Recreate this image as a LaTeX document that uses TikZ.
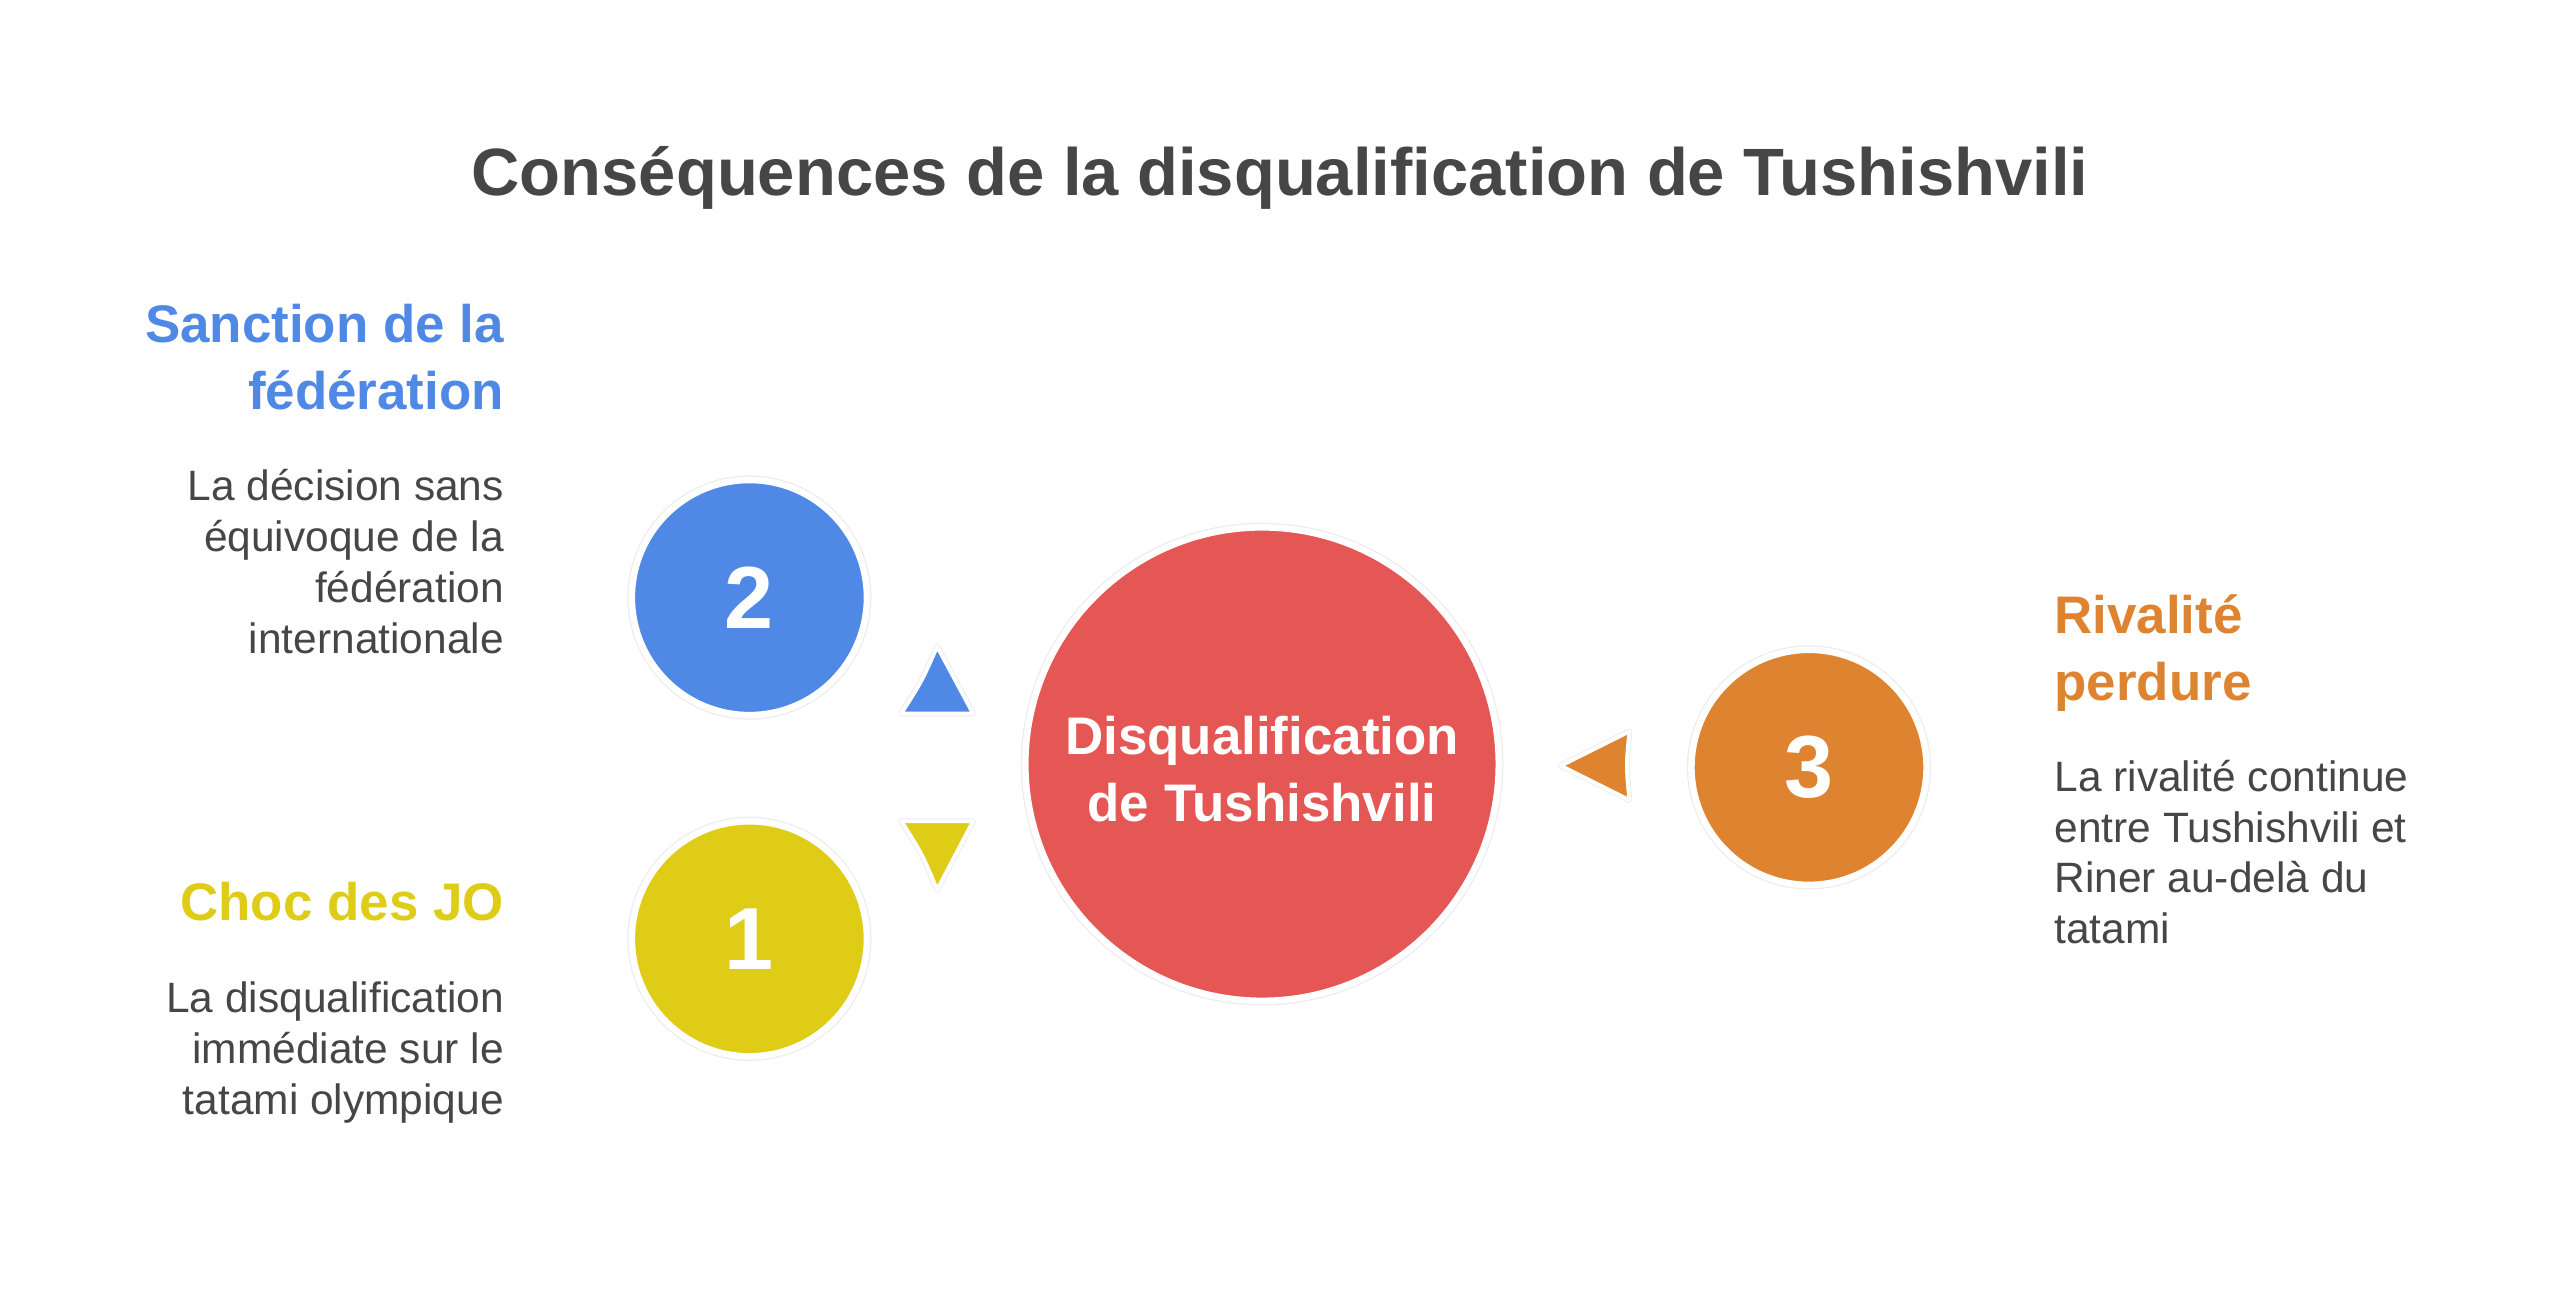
\documentclass[tikz,border=0pt]{standalone}
\usepackage{fontspec}
\setmainfont{Liberation Sans}
\usetikzlibrary{positioning}

\definecolor{sanctionblue}{HTML}{4F88E5}
\definecolor{chocyellow}{HTML}{DFCC17}
\definecolor{centralred}{HTML}{E45754}
\definecolor{rivalorange}{HTML}{DE8431}
\definecolor{textgray}{HTML}{464646}

\tikzset{
  bubble/.style={circle, fill=#1, draw=white, line width=2pt,
    preaction={draw=black!7, line width=2.8pt},
    text=white, inner sep=0pt, minimum size=72pt,
    font=\bfseries\fontsize{27}{30}\selectfont},
  heading/.style={text=#1, inner sep=0pt,
    font=\bfseries\fontsize{16.2}{20.5}\selectfont},
  blurb/.style={text=textgray, inner sep=0pt,
    font=\fontsize{13}{15.6}\selectfont},
  pointer/.style={fill=#1, draw=white, line width=1.2pt, line join=round,
    preaction={draw=black!7, line width=1.8pt, line join=round}},
}

\begin{document}
\begin{tikzpicture}[x=0.5pt, y=-0.5pt]
    \fill[white] (0,0) rectangle (1568,805);
    \useasboundingbox (0,0) rectangle (1568,805);

    % title
    \node[text=textgray, font=\bfseries\fontsize{20.5}{24}\selectfont] (title) at (784,109)
        {Conséquences de la disqualification de Tushishvili};

    % circles
    \node[bubble=centralred, minimum size=145pt] (disq) at (773,468) {};
    \node[text=white, font=\bfseries\fontsize{16.2}{20.5}\selectfont, align=center]
        (disqtxt) at (773,471) {Disqualification\\de Tushishvili};
    \node[bubble=sanctionblue] (two) at (459,366) {2};
    \node[bubble=chocyellow] (one) at (459,575) {1};
    \node[bubble=rivalorange] (three) at (1108,470) {3};

    % pointers
    \draw[pointer=sanctionblue] (574,396) -- (596,437) -- (552,437) .. controls (564.5,417.5) .. (574,396) -- cycle;
    \draw[pointer=chocyellow] (552,503) -- (596,503) -- (574,545) .. controls (564.5,522.5) .. (552,503) -- cycle;
    \draw[pointer=rivalorange] (956,469) -- (998,448) .. controls (996,469) .. (998,490) -- cycle;

    % left side texts
    \node[heading=sanctionblue, anchor=north east, align=right] (sanction) at (309,186)
        {Sanction de la\\fédération};
    \node[blurb, anchor=north east, align=right] (sanctiontxt) at (309,287)
        {La décision sans\\équivoque de la\\fédération\\internationale};
    \node[heading=chocyellow, anchor=north east, align=right] (choc) at (309,540)
        {Choc des JO};
    \node[blurb, anchor=north east, align=right] (choctxt) at (309,601)
        {La disqualification\\immédiate sur le\\tatami olympique};

    % right side texts
    \node[heading=rivalorange, anchor=north west, align=left] (rival) at (1258,364)
        {Rivalité\\perdure};
    \node[blurb, anchor=north west, align=left] (rivaltxt) at (1258,465)
        {La rivalité continue\\entre Tushishvili et\\Riner au-delà du\\tatami};
\end{tikzpicture}
\end{document}
